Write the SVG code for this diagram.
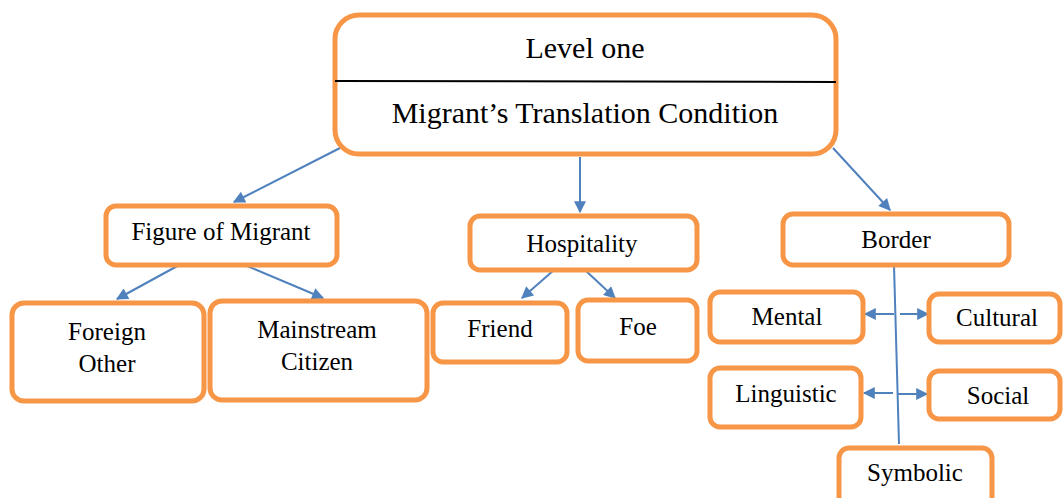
<svg xmlns="http://www.w3.org/2000/svg" width="1063" height="498" viewBox="0 0 1063 498">
<style>
.box{fill:#fff;stroke:#F79646;stroke-width:5}
.t{font-size:25px;fill:#000;text-anchor:middle}
.c{stroke:#4F81BD;stroke-width:2;fill:none}
</style>
<defs>
<marker id="a" viewBox="0 0 10 10" refX="9" refY="5" markerWidth="14" markerHeight="12" orient="auto" markerUnits="userSpaceOnUse">
<path d="M0,0 L10,5 L0,10 z" fill="#4F81BD"/>
</marker>
</defs>
<g id="connectors">
<line class="c" x1="340" y1="148" x2="234" y2="202" marker-end="url(#a)"/>
<line class="c" x1="580" y1="157" x2="580" y2="212" marker-end="url(#a)"/>
<line class="c" x1="833" y1="148" x2="890" y2="210" marker-end="url(#a)"/>
<line class="c" x1="181" y1="264" x2="117" y2="299" marker-end="url(#a)"/>
<line class="c" x1="240" y1="263" x2="323" y2="298" marker-end="url(#a)"/>
<line class="c" x1="554" y1="270" x2="522" y2="298" marker-end="url(#a)"/>
<line class="c" x1="585" y1="270" x2="615" y2="298" marker-end="url(#a)"/>
<line class="c" x1="894" y1="265" x2="899" y2="444"/>
<line class="c" x1="894" y1="314" x2="865" y2="314" marker-end="url(#a)"/>
<line class="c" x1="900" y1="314" x2="928" y2="314" marker-end="url(#a)"/>
<line class="c" x1="893" y1="393" x2="864" y2="393" marker-end="url(#a)"/>
<line class="c" x1="898" y1="394" x2="927" y2="394" marker-end="url(#a)"/>
</g>
<g font-family="Liberation Serif, serif">
<g id="level-one">
<rect class="box" x="335" y="15" width="501" height="139" rx="24"/>
<line x1="335" y1="81" x2="836" y2="82" stroke="#000" stroke-width="2"/>
<text class="t" x="585" y="58" font-family="Liberation Serif" style="font-size:30px">Level one</text>
<text class="t" x="585" y="123" font-family="Liberation Serif" style="font-size:30px">Migrant’s Translation Condition</text>
</g>
<g id="figure-of-migrant">
<rect class="box" x="106" y="206" width="231" height="59" rx="10"/>
<text class="t" x="221" y="240" font-family="Liberation Serif">Figure of Migrant</text>
</g>
<g id="foreign-other">
<rect class="box" x="12" y="303" width="192" height="98" rx="12"/>
<text class="t" x="107" y="340" font-family="Liberation Serif">Foreign</text>
<text class="t" x="107" y="372" font-family="Liberation Serif">Other</text>
</g>
<g id="mainstream-citizen">
<rect class="box" x="210" y="301" width="217" height="99" rx="12"/>
<text class="t" x="317" y="338" font-family="Liberation Serif">Mainstream</text>
<text class="t" x="317" y="370" font-family="Liberation Serif">Citizen</text>
</g>
<g id="hospitality">
<rect class="box" x="470" y="216" width="227" height="54" rx="10"/>
<text class="t" x="582" y="252" font-family="Liberation Serif">Hospitality</text>
</g>
<g id="friend">
<rect class="box" x="433" y="303" width="134" height="59" rx="10"/>
<text class="t" x="500" y="337" font-family="Liberation Serif">Friend</text>
</g>
<g id="foe">
<rect class="box" x="578" y="300" width="119" height="61" rx="10"/>
<text class="t" x="638" y="335" font-family="Liberation Serif">Foe</text>
</g>
<g id="border">
<rect class="box" x="783" y="214" width="226" height="51" rx="10"/>
<text class="t" x="896" y="248" font-family="Liberation Serif">Border</text>
</g>
<g id="mental">
<rect class="box" x="710" y="292" width="153" height="50" rx="10"/>
<text class="t" x="787" y="325" font-family="Liberation Serif">Mental</text>
</g>
<g id="cultural">
<rect class="box" x="929" y="294" width="131" height="48" rx="10"/>
<text class="t" x="997" y="326" font-family="Liberation Serif">Cultural</text>
</g>
<g id="linguistic">
<rect class="box" x="710" y="368" width="151" height="59" rx="10"/>
<text class="t" x="786" y="402" font-family="Liberation Serif">Linguistic</text>
</g>
<g id="social">
<rect class="box" x="929" y="371" width="131" height="48" rx="10"/>
<text class="t" x="998" y="404" font-family="Liberation Serif">Social</text>
</g>
<g id="symbolic">
<rect class="box" x="839" y="448" width="153" height="60" rx="10"/>
<text class="t" x="915" y="481" font-family="Liberation Serif">Symbolic</text>
</g>
</g>
</svg>
